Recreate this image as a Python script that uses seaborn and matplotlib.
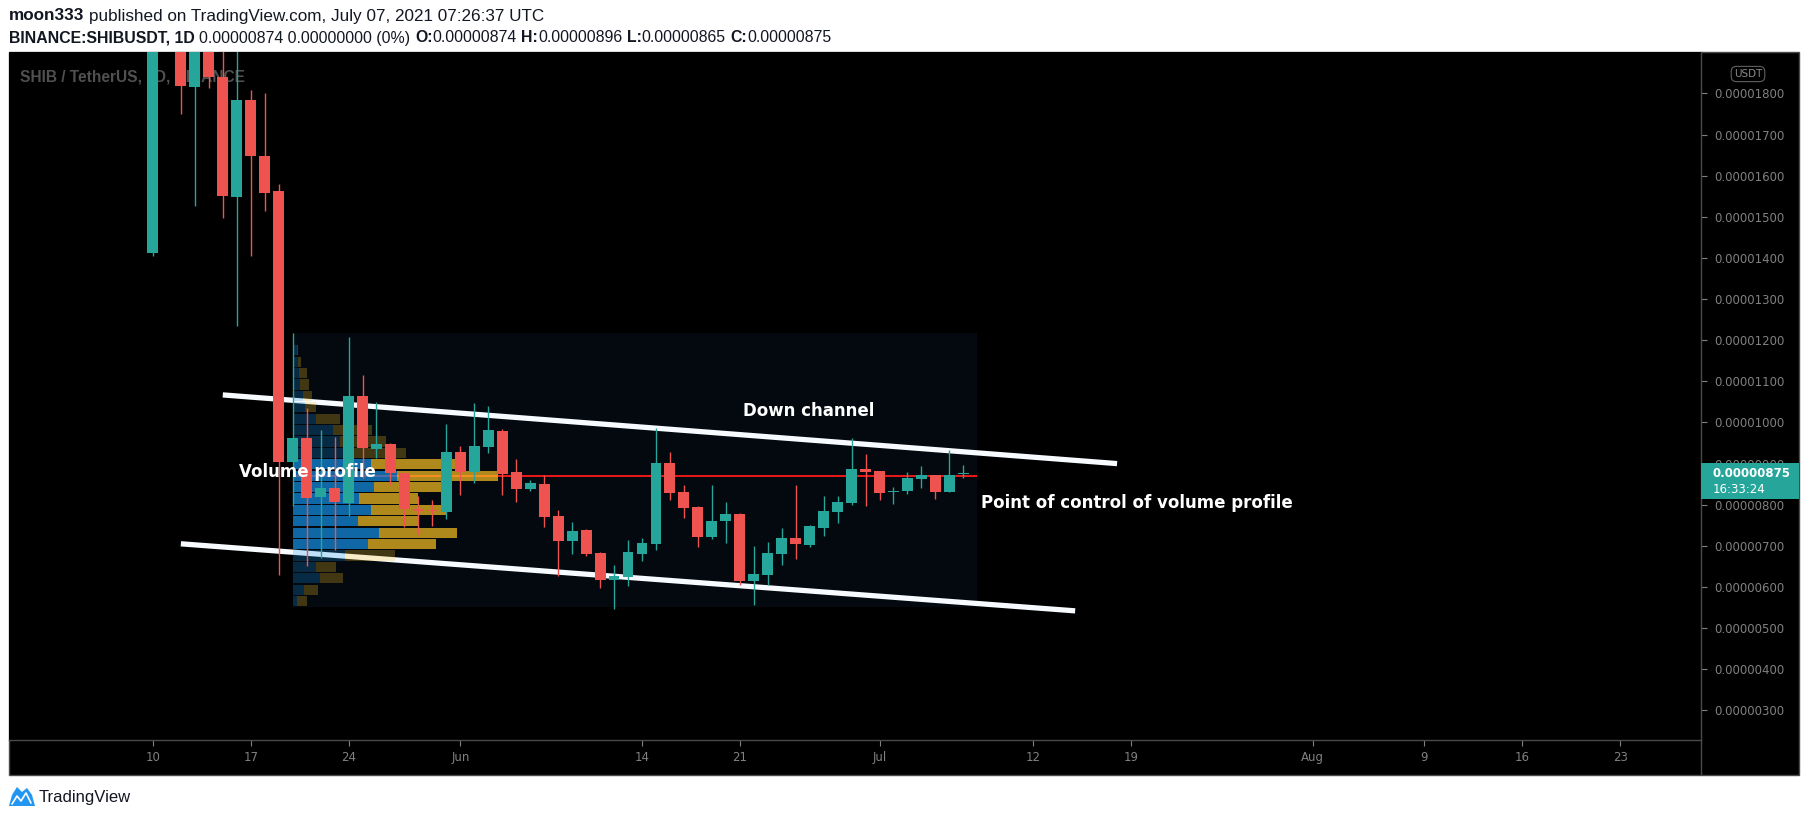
import numpy as np
import pandas as pd
import matplotlib
matplotlib.use("Agg")
import matplotlib.pyplot as plt
import matplotlib.dates as mdates
import matplotlib.transforms as mtransforms
from matplotlib.patches import Rectangle, Polygon
from matplotlib.lines import Line2D
import seaborn as sns

# ---------------- data (prices in units of 1e-8 USDT) ----------------
start_date = "2021-05-10"
end_date = "2021-07-07"
open_e8 = [1411, 2530, 2270, 1816, 2160, 1839, 1549, 1783, 1648, 1562,
           905, 962, 820, 840, 805, 1064, 936, 947, 876, 790, 788, 782,
           928, 880, 941, 979, 880, 838, 850, 773, 713, 739, 683, 618, 625, 681,
           705, 901, 831, 795, 722, 760, 777, 615, 630, 681, 719, 703, 744, 782,
           804, 887, 882, 831, 833, 862, 872, 831, 874]
high_e8 = [3880, 2700, 2330, 2300, 2200, 2020, 1960, 1808, 1800, 1579,
           1217, 1035, 982, 964, 1208, 1115, 1050, 950, 878, 821, 811, 996,
           943, 1047, 1040, 985, 911, 860, 872, 787, 758, 741, 686, 653, 714, 719,
           986, 928, 848, 796, 848, 807, 780, 700, 709, 743, 848, 750, 821, 821,
           962, 923, 882, 843, 880, 894, 872, 933, 896]
low_e8 = [1405, 1960, 1751, 1527, 1813, 1498, 1235, 1405, 1514, 628,
          796, 651, 670, 690, 773, 865, 913, 848, 747, 729, 748, 766,
          824, 854, 926, 824, 807, 833, 747, 627, 681, 676, 598, 547, 603, 664,
          690, 811, 768, 698, 717, 708, 606, 557, 605, 654, 669, 698, 725, 756,
          800, 797, 811, 802, 826, 841, 814, 830, 865]
close_e8 = [2530, 2270, 1819, 2160, 1840, 1551, 1783, 1648, 1558, 905,
            962, 817, 840, 807, 1064, 937, 948, 876, 789, 785, 784, 928,
            880, 943, 982, 875, 838, 853, 771, 713, 736, 681, 618, 627, 685, 707,
            901, 829, 792, 722, 760, 777, 615, 632, 683, 719, 705, 748, 785, 807,
            887, 880, 829, 833, 865, 872, 831, 872, 875]

# volume profile rows, top (high price) to bottom
vp_up = [2, 12, 17, 20, 23, 30, 36, 68, 120, 140, 150, 233,
         308, 242, 197, 233, 194, 257, 222, 155, 70, 80, 35, 13]
vp_down = [1, 4, 9, 21, 24, 26, 34, 72, 116, 135, 185, 252,
           300, 218, 173, 225, 176, 228, 203, 147, 58, 69, 39, 28]
vp_high_e8 = 1217
vp_low_e8 = 552
vp_start = "2021-05-20"
vp_end = "2021-07-08"
value_area_rows = (11, 18)

channel_upper_dates = ["2021-05-15", "2021-07-18"]
channel_upper_e8 = [1067, 900]
channel_lower_dates = ["2021-05-12", "2021-07-15"]
channel_lower_e8 = [705, 542]

annotations = [("Down channel", "2021-06-21 06:00", 1028),
               ("Volume profile", "2021-05-16 04:00", 880),
               ("Point of control of volume profile", "2021-07-08 05:30", 804)]

price_ticks_e8 = [300, 400, 500, 600, 700, 800, 900, 1000, 1100, 1200,
                  1300, 1400, 1500, 1600, 1700, 1800]
time_tick_dates = ["2021-05-10", "2021-05-17", "2021-05-24", "2021-06-01",
                   "2021-06-14", "2021-06-21", "2021-07-01", "2021-07-12",
                   "2021-07-19", "2021-08-01", "2021-08-09", "2021-08-16",
                   "2021-08-23"]
time_tick_labels = ["10", "17", "24", "Jun", "14", "21", "Jul", "12", "19",
                    "Aug", "9", "16", "23"]

header_line1 = [("moon333", "bold"), ("published on TradingView.com, July 07, 2021 07:26:37 UTC", "normal")]
header_line2 = [("BINANCE:SHIBUSDT, 1D", "bold"), ("0.00000874 0.00000000 (0%)", "normal"),
                ("O:", "bold"), ("0.00000874", "normal"), ("H:", "bold"), ("0.00000896", "normal"),
                ("L:", "bold"), ("0.00000865", "normal"), ("C:", "bold"), ("0.00000875", "normal")]
countdown = "16:33:24"
watermark = "SHIB / TetherUS, 1D, BINANCE"

# ---------------- styling ----------------
sns.set_theme(style="dark")
plt.rcParams["font.family"] = ["DejaVu Sans"]

UP = "#26a69a"
DOWN = "#ef5350"
GRID_GRAY = "#4a4a4a"
LABEL_GRAY = "#808080"
S = 1e-8

W, H = 1805, 822
fig = plt.figure(figsize=(W / 100, H / 100), dpi=100, facecolor="white")

def fx(px):
    return px / W

def fy(py):
    return 1 - py / H

# black chart panel with border (behind axes)
fig.patches.append(Rectangle((fx(9), fy(775)), fx(1799) - fx(9), fy(52) - fy(775),
                             transform=fig.transFigure, facecolor="black",
                             edgecolor=GRID_GRAY, lw=1.0, zorder=-10))

ax = fig.add_axes([fx(9), fy(740), (1701 - 9) / W, (740 - 52) / H])
ax.set_facecolor("black")
ax.set_zorder(1)

dates = pd.date_range(start_date, end_date, freq="D")
x = mdates.date2num(dates)
o = np.array(open_e8) * S
h = np.array(high_e8) * S
l = np.array(low_e8) * S
c = np.array(close_e8) * S
cols = [UP if cc >= oo else DOWN for oo, cc in zip(o, c)]

# volume profile box
x0 = mdates.date2num(pd.Timestamp(vp_start))
x1 = mdates.date2num(pd.Timestamp(vp_end))
vhi, vlo = vp_high_e8 * S, vp_low_e8 * S
ax.add_patch(Rectangle((x0, vlo), x1 - x0, vhi - vlo, facecolor="#03090e",
                       edgecolor="none", zorder=1))

up = np.array(vp_up, float)
dn = np.array(vp_down, float)
tot = up + dn
nrows = len(up)
row_h = (vhi - vlo) / nrows
centers = vhi - (np.arange(nrows) + 0.5) * row_h
scale = 0.30 * (x1 - x0) / tot.max()
poc = int(np.argmax(tot))

# POC line
ax.hlines(centers[poc], x0, x1, color="#ff1a1a", lw=1.3, zorder=1.6)

# channel lines (seaborn)
for dts, vals in [(channel_upper_dates, channel_upper_e8), (channel_lower_dates, channel_lower_e8)]:
    sns.lineplot(x=mdates.date2num(pd.to_datetime(dts)), y=np.array(vals) * S, ax=ax,
                 color="#f7fbff", lw=3.8, zorder=2, sort=False, estimator=None,
                 legend=False, solid_capstyle="butt")

# VP bars
in_va = (np.arange(nrows) >= value_area_rows[0]) & (np.arange(nrows) <= value_area_rows[1])
alphas = np.where(in_va, 0.70, 0.25)
for i in range(nrows):
    ax.barh(centers[i], up[i] * scale, height=row_h * 0.90, left=x0,
            color="#1592e6", alpha=alphas[i], linewidth=0, zorder=3)
    ax.barh(centers[i], dn[i] * scale, height=row_h * 0.90, left=x0 + up[i] * scale,
            color="#fbc123", alpha=alphas[i], linewidth=0, zorder=3)

# candles
ax.vlines(x, l, h, colors=cols, lw=1.0, zorder=3.9)
body = np.maximum(np.abs(c - o), 3 * S)
ax.bar(x, body, bottom=np.minimum(o, c), width=0.78, color=cols, linewidth=0, zorder=4)

# annotations
for txt, d, p in annotations:
    ax.text(mdates.date2num(pd.Timestamp(d)), p * S, txt, color="white",
            fontsize=12, fontweight="bold", family=["DejaVu Sans"],
            ha="left", va="center", zorder=6)

# watermark
ax.text(0.0063, 0.9637, watermark, transform=ax.transAxes, color="#505050",
        fontsize=11.2, fontweight="bold", family=["Liberation Sans", "DejaVu Sans"],
        ha="left", va="center", zorder=0.5)

# limits
day0 = mdates.date2num(pd.Timestamp(start_date))
ax.set_xlim(day0 - 10.30, day0 + 110.79)
ax.set_ylim(228 * S, 1900.7 * S)
ax.set_xlabel("")
ax.set_ylabel("")
ax.grid(False)

# axes ticks
ax.yaxis.tick_right()
ax.set_yticks(np.array(price_ticks_e8) * S)
ax.set_yticklabels([f"{v * S:.8f}" for v in price_ticks_e8])
ax.set_xticks(mdates.date2num(pd.to_datetime(time_tick_dates)))
ax.set_xticklabels(time_tick_labels)
ax.tick_params(axis="y", colors=LABEL_GRAY, labelcolor=LABEL_GRAY, length=4.3,
               width=0.8, pad=5.5, labelsize=8.5, direction="out", right=True, left=False)
ax.tick_params(axis="x", colors=LABEL_GRAY, labelcolor=LABEL_GRAY, length=4.0,
               width=0.8, pad=4.0, labelsize=8.5, direction="out", bottom=True)
for side in ["top", "left"]:
    ax.spines[side].set_visible(False)
for side in ["bottom", "right"]:
    ax.spines[side].set_color(GRID_GRAY)
    ax.spines[side].set_linewidth(1.0)

# current price label
blend = mtransforms.blended_transform_factory(ax.transAxes, ax.transData)
last = c[-1]
ax.add_patch(Rectangle((1.0, last - 60 * S), 98 / 1692, 87 * S, transform=blend,
                       facecolor=UP, edgecolor="none", clip_on=False, zorder=10))
ax.text(1.0068, last, f"{last:.8f}", transform=blend, color="white", fontsize=8.5,
        fontweight="bold", ha="left", va="center", zorder=11, clip_on=False)
ax.text(1.0068, last - 37 * S, countdown, transform=blend, color="white", fontsize=8.5,
        ha="left", va="center", zorder=11, clip_on=False)

# vertical separator of price scale through time axis
fig.lines.append(Line2D([fx(1701), fx(1701)], [fy(740), fy(775)], transform=fig.transFigure,
                        color=GRID_GRAY, lw=1.0, zorder=5))

# USDT badge
fig.text(fx(1748), fy(74), "USDT", ha="center", va="center", fontsize=7.5,
         color="#8a8a8a", zorder=6,
         bbox=dict(boxstyle="round,pad=0.25,rounding_size=0.5", fc="black",
                   ec="#5f5f5f", lw=0.8))

# header
hax = fig.add_axes([0, fy(52), 1, 52 / H])
hax.set_axis_off()

def chain(parts, px, py, size):
    prev = hax.text(fx(px), fy(py), parts[0][0], transform=fig.transFigure,
                    fontsize=size, fontweight=parts[0][1], color="#131722",
                    family=["Liberation Sans", "DejaVu Sans"], ha="left", va="center")
    for i, (txt, wt) in enumerate(parts[1:]):
        gap = 0 if parts[i][0].endswith(":") else 3.3
        prev = hax.annotate(txt, xy=(1, 0), xycoords=prev, xytext=(gap, 0),
                            textcoords="offset points", fontsize=size, fontweight=wt,
                            color="#131722", family=["Liberation Sans", "DejaVu Sans"],
                            ha="left", va="bottom")

chain(header_line1, 9, 16, 12.3)
chain(header_line2, 9, 38, 11.4)

# footer logo
logo = [(9, 806), (12, 795), (17, 787), (22, 792), (27, 788), (32, 795), (35, 806)]
fig.patches.append(Polygon([(fx(a), fy(b)) for a, b in logo], closed=True,
                           transform=fig.transFigure, facecolor="#2196f3",
                           edgecolor="none"))
zig = [(12, 804), (17, 796), (21, 801), (26, 793), (31, 803)]
fig.lines.append(Line2D([fx(a) for a, b in zig], [fy(b) for a, b in zig],
                        transform=fig.transFigure, color="white", lw=1.2))
fig.text(fx(39), fy(797), "TradingView", ha="left", va="center", fontsize=12,
         color="#131722", family=["Liberation Sans", "DejaVu Sans"])

fig.savefig("out.png", dpi=100, facecolor="white")
